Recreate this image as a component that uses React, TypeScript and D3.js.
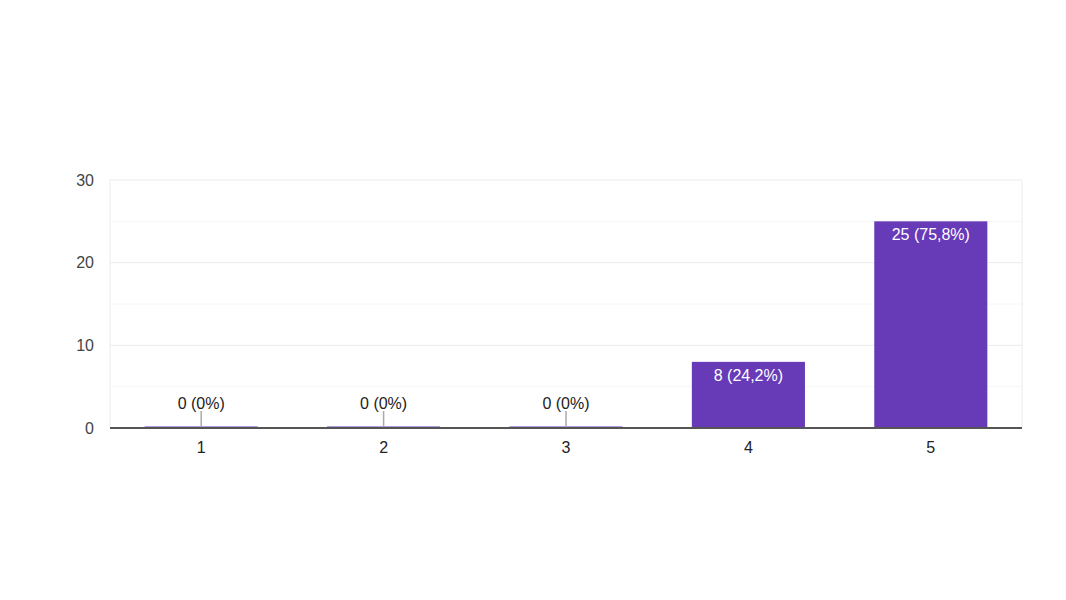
import { useEffect, useRef } from "react"
import * as d3 from "d3"

const categories = ["1", "2", "3", "4", "5"]
const counts = [0, 0, 0, 8, 25]
const labels = ["0 (0%)", "0 (0%)", "0 (0%)", "8 (24,2%)", "25 (75,8%)"]
const yTicks = [0, 10, 20, 30]
const minorTicks = [5, 15, 25]

export default function App() {
  const svgRef = useRef<SVGSVGElement>(null)

  useEffect(() => {
    if (!svgRef.current) return
    const W = 1066
    const H = 600
    const margin = { top: 180, right: 44, bottom: 172, left: 110 }
    const width = W - margin.left - margin.right
    const height = H - margin.top - margin.bottom
    const fs = "16px"

    d3.select(svgRef.current).selectAll("*").remove()

    const svg = d3
      .select(svgRef.current)
      .attr("width", W)
      .attr("height", H)
      .style("font-family", "Arial, 'Liberation Sans', sans-serif")
      .append("g")
      .attr("transform", `translate(${margin.left},${margin.top})`)

    const x = d3.scaleBand().domain(categories).range([0, width]).paddingInner(0.38).paddingOuter(0.19)
    const y = d3.scaleLinear().domain([0, 30]).range([height, 0])

    // minor grid
    svg
      .selectAll(".minor")
      .data(minorTicks)
      .enter()
      .append("line")
      .attr("x1", 0)
      .attr("x2", width)
      .attr("y1", (d) => y(d))
      .attr("y2", (d) => y(d))
      .attr("stroke", "#f6f6f6")
      .attr("stroke-width", 1)

    // major grid
    svg
      .selectAll(".major")
      .data(yTicks.filter((d) => d > 0))
      .enter()
      .append("line")
      .attr("x1", 0)
      .attr("x2", width)
      .attr("y1", (d) => y(d))
      .attr("y2", (d) => y(d))
      .attr("stroke", "#ebebeb")
      .attr("stroke-width", 1)

    // side frame lines
    ;[0, width].forEach((xx) => {
      svg
        .append("line")
        .attr("x1", xx)
        .attr("x2", xx)
        .attr("y1", 0)
        .attr("y2", height)
        .attr("stroke", "#ebebeb")
    })

    // y tick labels
    svg
      .selectAll(".ytick")
      .data(yTicks)
      .enter()
      .append("text")
      .attr("x", -16)
      .attr("y", (d) => y(d))
      .attr("dy", "0.35em")
      .attr("text-anchor", "end")
      .style("font-size", fs)
      .style("fill", "#444")
      .text((d) => d)

    // bars
    svg
      .selectAll(".bar")
      .data(counts)
      .enter()
      .append("rect")
      .attr("x", (_, i) => x(categories[i]) as number)
      .attr("y", (d) => (d > 0 ? y(d) : y(0) - 1.5))
      .attr("width", x.bandwidth())
      .attr("height", (d) => (d > 0 ? y(0) - y(d) : 1.5))
      .attr("fill", "#673ab7")

    // zero leader lines
    svg
      .selectAll(".leader")
      .data(counts)
      .enter()
      .filter((d) => d === 0)
      .append("line")
      .attr("x1", (_, i) => (x(categories[i]) as number) + x.bandwidth() / 2)
      .attr("x2", (_, i) => (x(categories[i]) as number) + x.bandwidth() / 2)
      .attr("y1", y(0) - 17)
      .attr("y2", y(0))
      .attr("stroke", "#aaa")
      .attr("stroke-width", 1.5)

    // value labels
    svg
      .selectAll(".label")
      .data(counts)
      .enter()
      .append("text")
      .attr("x", (_, i) => (x(categories[i]) as number) + x.bandwidth() / 2)
      .attr("y", (d) => (d > 0 ? y(d) + 19 : y(0) - 19))
      .attr("text-anchor", "middle")
      .style("font-size", fs)
      .style("fill", (d) => (d > 0 ? "#fff" : "#222"))
      .text((_, i) => labels[i])

    // baseline axis
    svg
      .append("line")
      .attr("x1", 0)
      .attr("x2", width)
      .attr("y1", y(0))
      .attr("y2", y(0))
      .attr("stroke", "#555")
      .attr("stroke-width", 2)

    // x tick labels
    svg
      .selectAll(".xtick")
      .data(categories)
      .enter()
      .append("text")
      .attr("x", (d) => (x(d) as number) + x.bandwidth() / 2)
      .attr("y", height + 25)
      .attr("text-anchor", "middle")
      .style("font-size", fs)
      .style("fill", "#222")
      .text((d) => d)
  }, [])

  return (
    <div style={{ position: "absolute", left: 0, top: 0, background: "#fff" }}>
      <svg ref={svgRef}></svg>
    </div>
  )
}
